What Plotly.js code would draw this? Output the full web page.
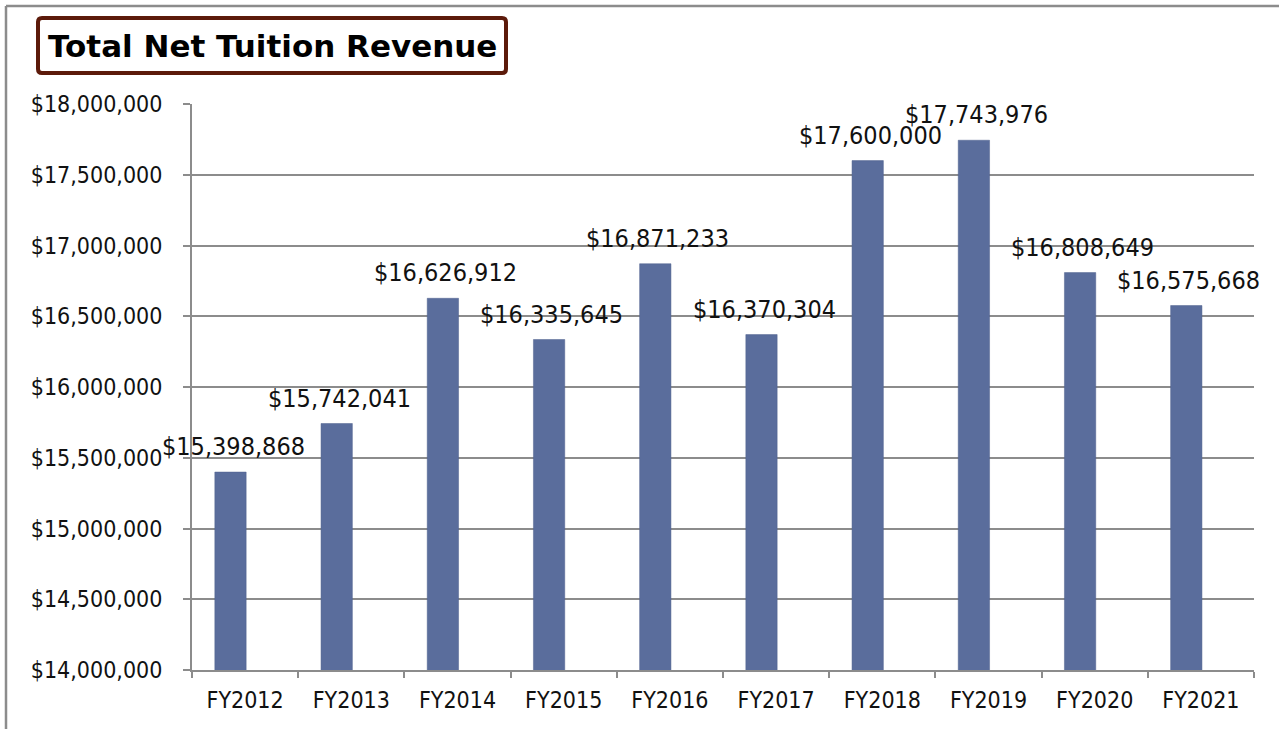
<!DOCTYPE html>
<html>
<head>
<meta charset="utf-8">
<script src="https://cdn.plot.ly/plotly-3.0.1.min.js"></script>
<style>
html,body{margin:0;padding:0;background:#fff;}
#chart{width:1279px;height:729px;}
</style>
</head>
<body>
<div id="chart"></div>
<script>
const categories = ["FY2012","FY2013","FY2014","FY2015","FY2016","FY2017","FY2018","FY2019","FY2020","FY2021"];
const revenue = [15398868, 15742041, 16626912, 16335645, 16871233, 16370304, 17600000, 17743976, 16808649, 16575668];
const yTickVals = [14000000,14500000,15000000,15500000,16000000,16500000,17000000,17500000,18000000];
const chartTitle = "Total Net Tuition Revenue";

const W = 1279, H = 729;
const L = 192, R = 1254, T = 104, B = 670;
const px = x => (x - L) / (R - L);
const py = y => (B - y) / (B - T);

const fontFam = '"DejaVu Sans Condensed", "DejaVu Sans", sans-serif';
const fmt = v => '$' + v.toLocaleString('en-US');

const trace = {
  type: 'bar',
  x: categories,
  y: revenue,
  width: 0.295,
  offset: -0.285,
  marker: {color: '#5a6d9c', line: {color: '#50638f', width: 0.5}},
  hoverinfo: 'x+y'
};

function roundRect(x0, y0, x1, y1, r) {
  const rx = r / (R - L), ry = r / (B - T);
  const a = px(x0), b = px(x1), c = py(y0), d = py(y1);
  return `M ${a+rx},${c} L ${b-rx},${c} Q ${b},${c} ${b},${c-ry} L ${b},${d+ry} Q ${b},${d} ${b-rx},${d} L ${a+rx},${d} Q ${a},${d} ${a},${d+ry} L ${a},${c-ry} Q ${a},${c} ${a+rx},${c} Z`;
}

const labelAnns = categories.map((c, i) => ({
  xref: 'x', yref: 'y', x: c, y: revenue[i],
  xanchor: 'center', yanchor: 'bottom', xshift: -12, yshift: 9,
  text: fmt(revenue[i]), showarrow: false,
  font: {family: fontFam, size: 25, color: '#111'}
}));

const layout = {
  width: W, height: H,
  margin: {l: L, r: W - R, t: T, b: H - B, pad: 0},
  paper_bgcolor: '#fff',
  plot_bgcolor: '#fff',
  showlegend: false,
  bargap: 0,
  xaxis: {
    type: 'category',
    autorange: false,
    range: [-0.5, categories.length - 0.5],
    tickson: 'boundaries',
    ticks: 'outside',
    ticklen: 6,
    tickwidth: 2,
    tickcolor: '#8c8c8c',
    showline: true,
    linecolor: '#8c8c8c',
    linewidth: 2,
    showgrid: false,
    tickfont: {family: fontFam, size: 23, color: '#111'},
    ticklabelstandoff: 8
  },
  yaxis: {
    autorange: false,
    range: [14000000, 18000000],
    tickvals: yTickVals,
    ticktext: yTickVals.map(fmt),
    ticks: 'outside',
    ticklen: 7,
    tickwidth: 2,
    tickcolor: '#8c8c8c',
    showline: true,
    linecolor: '#8c8c8c',
    linewidth: 2,
    showgrid: true,
    gridcolor: '#8c8c8c',
    gridwidth: 2,
    zeroline: false,
    tickfont: {family: fontFam, size: 23, color: '#111'},
    ticklabelstandoff: 16
  },
  shapes: [
    {type: 'line', xref: 'paper', yref: 'paper', x0: px(6), x1: px(W + 5), y0: py(6), y1: py(6),
     line: {color: '#8c8c8c', width: 2.5}},
    {type: 'line', xref: 'paper', yref: 'paper', x0: px(6), x1: px(6), y0: py(6), y1: py(H + 5),
     line: {color: '#8c8c8c', width: 2.5}},
    {type: 'path', xref: 'paper', yref: 'paper', path: roundRect(38, 18, 506, 73, 4),
     fillcolor: '#fff', line: {color: '#5c1a0a', width: 4}}
  ],
  annotations: [
    {xref: 'paper', yref: 'paper', x: px(272), y: py(46), xanchor: 'center', yanchor: 'middle',
     text: '<b>' + chartTitle + '</b>', showarrow: false,
     font: {family: '"DejaVu Sans", sans-serif', size: 31, color: '#000'}}
  ].concat(labelAnns)
};

Plotly.newPlot('chart', [trace], layout, {displayModeBar: false, staticPlot: true});
</script>
</body>
</html>
